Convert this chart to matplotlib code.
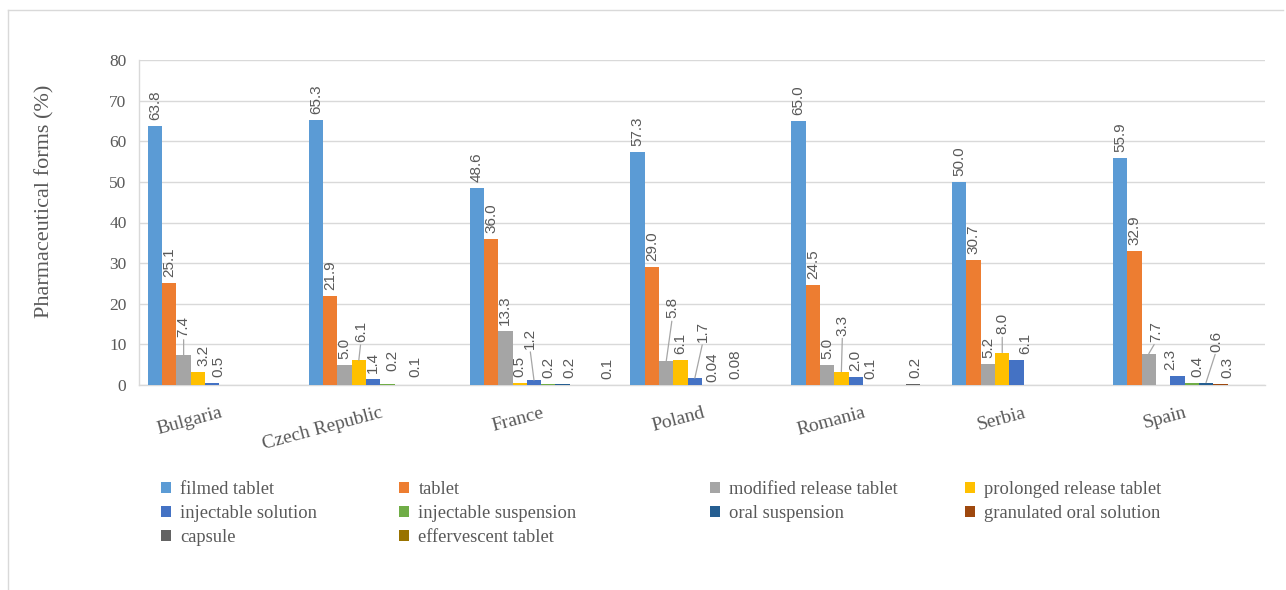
import matplotlib.pyplot as plt
from matplotlib.patches import Patch
from matplotlib.lines import Line2D
import numpy as np

plt.rcParams['font.family'] = ['Liberation Serif', 'DejaVu Serif']

countries = ['Bulgaria', 'Czech Republic', 'France', 'Poland', 'Romania', 'Serbia', 'Spain']
forms = ['filmed tablet', 'tablet', 'modified release tablet', 'prolonged release tablet',
         'injectable solution', 'injectable suspension', 'oral suspension',
         'granulated oral solution', 'capsule', 'effervescent tablet']

# share of each pharmaceutical form per country (%)
filmed_tablet = [63.8, 65.3, 48.6, 57.3, 65.0, 50.0, 55.9]
tablet = [25.1, 21.9, 36.0, 29.0, 24.5, 30.7, 32.9]
modified_release = [7.4, 5.0, 13.3, 5.8, 5.0, 5.2, 7.7]
prolonged_release = [3.2, 6.1, 0.5, 6.1, 3.3, 8.0, 0]
injectable_solution = [0.5, 1.4, 1.2, 1.7, 2.0, 6.1, 2.3]
injectable_suspension = [0, 0.2, 0.2, 0.04, 0.1, 0, 0.4]
oral_suspension = [0, 0.1, 0.2, 0.08, 0, 0, 0.6]
granulated_oral = [0, 0, 0, 0, 0, 0, 0.3]
capsule = [0, 0, 0, 0, 0.2, 0, 0]
effervescent = [0, 0, 0.1, 0, 0, 0, 0]

values = [filmed_tablet, tablet, modified_release, prolonged_release,
          injectable_solution, injectable_suspension, oral_suspension,
          granulated_oral, capsule, effervescent]

colors = ['#5B9BD5', '#ED7D31', '#A5A5A5', '#FFC000', '#4472C4',
          '#70AD47', '#255E91', '#9E480E', '#636363', '#997300']

# labels moved away from crowded bars: (series, country) -> (dx px, dy px, leader line)
label_shift = {
    (2, 0): (0, 12, True), (3, 0): (5, 0, False), (4, 0): (6, 0, False),
    (3, 1): (2, 12, True), (5, 1): (5, 7, False), (6, 1): (14, 2, False),
    (4, 2): (-4, 25, True), (6, 2): (7, 0, False), (9, 2): (2, 0, False),
    (2, 3): (6, 37, True), (4, 3): (8, 30, True), (5, 3): (3, -3, False), (6, 3): (12, 0, False),
    (3, 4): (1, 30, True), (8, 4): (2, 0, False),
    (3, 5): (0, 12, True), (4, 5): (9, 0, False),
    (2, 6): (7, 6, True), (4, 6): (-7, 0, False), (5, 6): (6, 0, False),
    (6, 6): (10, 25, True), (7, 6): (7, 0, False),
}

W, H = 1286, 590
fig = plt.figure(figsize=(W / 100, H / 100), dpi=100)
ax = fig.add_axes([139 / W, 205 / H, 1126 / W, 325 / H])

x = np.arange(len(countries))
w = 0.089
for k, (vals, col) in enumerate(zip(values, colors)):
    xs = x + (k - 4.5) * w
    ax.bar(xs, vals, w, color=col, zorder=3)
    for j, v in enumerate(vals):
        if v == 0:
            continue
        dx, dy, leader = label_shift.get((k, j), (0, 0, False))
        txt = f'{v:.2f}' if v < 0.1 else f'{v:.1f}'
        arrow = None
        if leader:
            arrow = dict(arrowstyle='-', color='#A6A6A6', lw=0.9,
                         shrinkA=0, shrinkB=0, relpos=(0.5, 0))
        ax.annotate(txt, (xs[j], v), xytext=(dx, 6 + dy), textcoords='offset pixels',
                    rotation=90, ha='center', va='bottom', fontsize=11,
                    color='#595959', family='Liberation Sans', arrowprops=arrow,
                    zorder=4)

ax.set_xlim(-0.5, len(countries) - 0.5)
ax.set_ylim(0, 80)
ax.set_yticks(range(0, 81, 10))
ax.tick_params(axis='y', length=0, pad=9, labelsize=12.5, labelcolor='#595959')
ax.set_xticks(x)
ax.set_xticklabels(countries, rotation=15, ha='right', va='top',
                   rotation_mode='anchor', fontsize=14, color='#595959')
ax.tick_params(axis='x', length=0, pad=14)

ax.yaxis.grid(True, color='#D9D9D9', lw=1)
ax.set_axisbelow(True)
for s in ['top', 'right']:
    ax.spines[s].set_visible(False)
for s in ['left', 'bottom']:
    ax.spines[s].set_color('#D9D9D9')
    ax.spines[s].set_linewidth(1)

fig.text(45 / W, 1 - 201 / H, 'Pharmaceutical forms (%)', rotation=90,
         ha='center', va='center', fontsize=16, color='#595959')

# legend laid out as four columns, rows read left to right
legend_cols = [[0, 4, 8], [1, 5, 9], [2, 6], [3, 7]]
col_x = [161, 399, 710, 965]
for cx, idxs in zip(col_x, legend_cols):
    handles = [Patch(facecolor=colors[i], edgecolor='none') for i in idxs]
    fig.legend(handles, [forms[i] for i in idxs], loc='upper left',
               bbox_to_anchor=(cx / W, 1 - 481 / H), frameon=False, fontsize=13.3,
               handlelength=0.55, handleheight=0.55, handletextpad=0.5,
               labelspacing=0.38, borderpad=0, borderaxespad=0, labelcolor='#595959')

# chart frame (top and left edges)
fig.add_artist(Line2D([8 / W, 8 / W], [0, 1 - 10 / H], transform=fig.transFigure,
                      color='#D9D9D9', lw=1))
fig.add_artist(Line2D([8 / W, 1283 / W], [1 - 10 / H, 1 - 10 / H],
                      transform=fig.transFigure, color='#D9D9D9', lw=1))

fig.savefig('out.png', dpi=100)
